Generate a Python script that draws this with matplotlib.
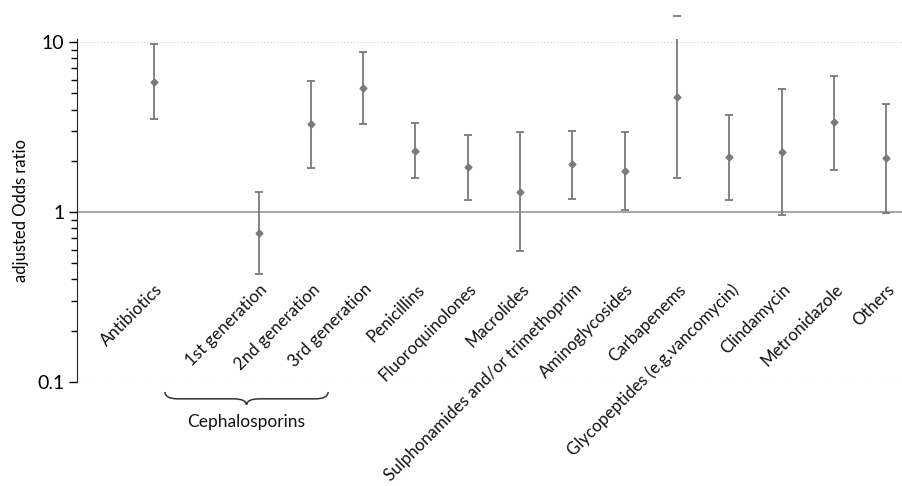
import numpy as np
import matplotlib.pyplot as plt
from matplotlib.path import Path
from matplotlib.patches import PathPatch
import matplotlib.transforms as mtransforms

plt.rcParams['font.family'] = ['Lato', 'DejaVu Sans']

# Data
labels = ["Antibiotics", "", "1st generation", "2nd generation", "3rd generation",
          "Penicillins", "Fluoroquinolones", "Macrolides",
          "Sulphonamides and/or trimethoprim", "Aminoglycosides", "Carbapenems",
          "Glycopeptides (e.g.vancomycin)", "Clindamycin", "Metronidazole", "Others"]
odds = [5.84, np.nan, 0.75, 3.27, 5.36, 2.29, 1.83, 1.31, 1.91, 1.74, 4.72, 2.10, 2.26, 3.36, 2.08]
lower = [3.53, np.nan, 0.43, 1.82, 3.27, 1.58, 1.17, 0.59, 1.19, 1.02, 1.58, 1.18, 0.96, 1.76, 0.99]
upper = [9.69, np.nan, 1.31, 5.92, 8.73, 3.35, 2.84, 2.95, 3.00, 2.95, 14.2, 3.73, 5.28, 6.33, 4.33]
group_label = "Cephalosporins"

x = np.arange(len(labels))
odds = np.array(odds)
err = np.array([odds - np.array(lower), np.array(upper) - odds])
gray = "#7a7a7a"

fig = plt.figure(figsize=(9.02, 4.86), dpi=100)
ax = fig.add_axes([0.0854, 0.2146, 0.9146, 0.7052])
ax.set_yscale('log')
ax.set_ylim(0.1, 10.42)
ax.set_xlim(-1.47, 14.3)

ax.axhline(1, color="#a6a6a6", lw=1.4, zorder=1)
for v in [0.1, 10]:
    ax.axhline(v, color="#d0d0d0", lw=0.8, ls=(0, (1, 2)), zorder=0)

line, caps, bars = ax.errorbar(x, odds, yerr=err, fmt='D', color=gray, ms=3.5,
                               elinewidth=1.3, capsize=3, capthick=1.3, zorder=3)
for c in caps:
    c.set_clip_on(False)

# category labels, rotated, hanging inside the plot area
for xi, lab in zip(x, labels):
    ax.text(xi + 0.12, 0.362, lab, rotation=45, ha='right', va='center',
            rotation_mode='anchor', fontsize=12.2, color="#111111")

ax.set_xticks([])
ax.set_yticks([0.1, 1, 10])
ax.set_yticklabels(["0.1", "1", "10"], fontsize=14)
ax.tick_params(axis='y', which='major', length=6, width=1, pad=3)
ax.tick_params(axis='y', which='minor', length=4, width=1)
ax.yaxis.set_minor_formatter(plt.NullFormatter())
for s in ['top', 'right', 'bottom']:
    ax.spines[s].set_visible(False)
ax.spines['left'].set_color("#222222")
ax.set_ylabel("adjusted Odds ratio", fontsize=12, labelpad=6)

# brace under the cephalosporin labels
trans = mtransforms.blended_transform_factory(ax.transData, ax.transAxes)
x0, x1 = 0.21, 3.33
xm = (x0 + x1) / 2
yt, ym, yb = -0.030, -0.050, -0.068
r = 0.25
verts = [(x0, yt), (x0, ym), (x0 + r, ym),
         (xm - r, ym), (xm, ym), (xm, yb),
         (xm, ym), (xm + r, ym),
         (x1 - r, ym), (x1, ym), (x1, yt)]
codes = [Path.MOVETO, Path.CURVE3, Path.CURVE3,
         Path.LINETO, Path.CURVE3, Path.CURVE3,
         Path.CURVE3, Path.CURVE3,
         Path.LINETO, Path.CURVE3, Path.CURVE3]
ax.add_patch(PathPatch(Path(verts, codes), transform=trans, fill=False,
                       lw=1.1, color="#333333", clip_on=False))
ax.text(xm, -0.118, group_label, transform=trans, ha='center', va='center',
        fontsize=12.5, color="#111111")

plt.savefig("out.png", dpi=100)
